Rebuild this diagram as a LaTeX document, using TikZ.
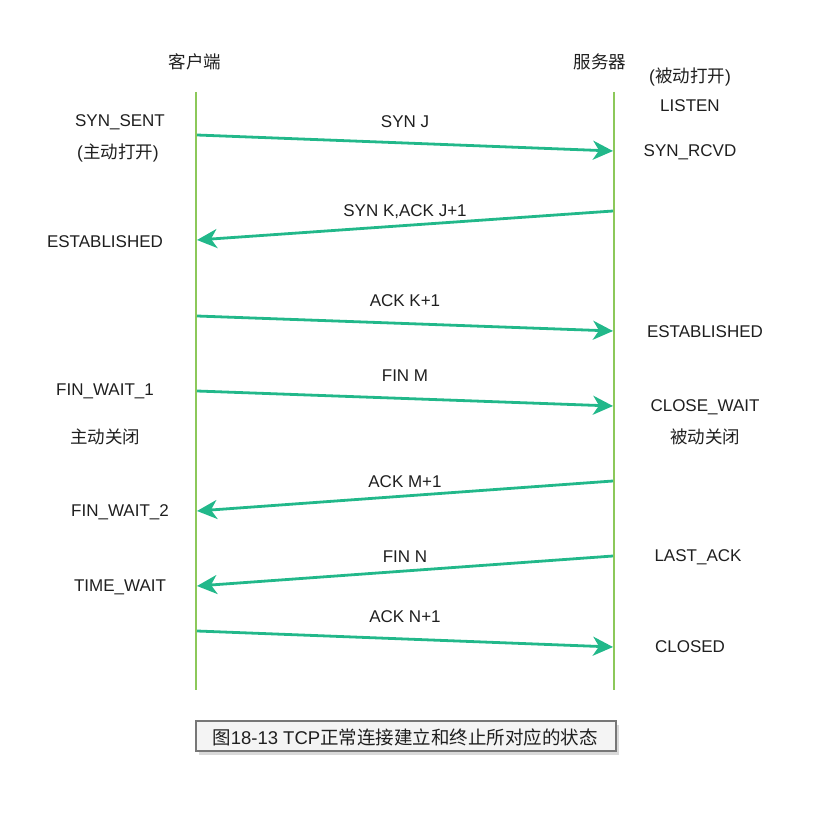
\documentclass[tikz,border=0pt]{standalone}
\usepackage{fontspec}
\setmainfont{Liberation Sans}
\newfontfamily\cjk{Noto Sans CJK SC}
\usetikzlibrary{arrows.meta,shadows}
\definecolor{life}{HTML}{8CC85A}
\definecolor{msg}{HTML}{22B88A}
\definecolor{capfill}{HTML}{F4F4F4}
\definecolor{capdraw}{HTML}{777777}
\newcommand{\zhx}[1]{{\cjk #1}}
\begin{document}
\begin{tikzpicture}[x=1pt,y=-1pt,
  lbl/.style={font=\fontsize{17}{20}\selectfont, inner sep=0pt, text=black!88},
  zh/.style={font=\fontsize{17.5}{20}\selectfont, inner sep=0pt, text=black!88},
  lifeline/.style={draw=life, line width=2.8pt},
  msgarrow/.style={draw=msg, line width=2.8pt, -{Stealth[length=20pt,width=19pt,inset=6pt]}},
  capbox/.style={draw=capdraw, fill=capfill, line width=1.2pt, minimum width=420pt, minimum height=30pt, inner sep=0pt, drop shadow={opacity=0.3, shadow xshift=3pt, shadow yshift=-4pt}}]
\useasboundingbox (0,0) rectangle (828,813);
% lifelines
\coordinate (ct) at (196,92); \coordinate (cb) at (196,690);
\coordinate (st) at (614,92); \coordinate (sb) at (614,690);
\draw[lifeline] (ct) -- (cb);
\draw[lifeline] (st) -- (sb);
% headers
\node[zh] (client) at (195,62) {\zhx{客户端}};
\node[zh] (server) at (600,62) {\zhx{服务器}};
% message endpoints
\coordinate (a1) at (197,135); \coordinate (b1) at (613,151);
\coordinate (a2) at (613,211); \coordinate (b2) at (197,240);
\coordinate (a3) at (197,316); \coordinate (b3) at (613,331);
\coordinate (a4) at (197,391); \coordinate (b4) at (613,406);
\coordinate (a5) at (613,481); \coordinate (b5) at (197,511);
\coordinate (a6) at (613,556); \coordinate (b6) at (197,586);
\coordinate (a7) at (197,631); \coordinate (b7) at (613,647);
\draw[msgarrow] (a1) -- (b1);
\draw[msgarrow] (a2) -- (b2);
\draw[msgarrow] (a3) -- (b3);
\draw[msgarrow] (a4) -- (b4);
\draw[msgarrow] (a5) -- (b5);
\draw[msgarrow] (a6) -- (b6);
\draw[msgarrow] (a7) -- (b7);
% message labels
\node[lbl] (m1) at (405,122) {SYN J};
\node[lbl] (m2) at (405,212) {SYN K,ACK J+1};
\node[lbl] (m3) at (405,301) {ACK K+1};
\node[lbl] (m4) at (405,376) {FIN M};
\node[lbl] (m5) at (405,482) {ACK M+1};
\node[lbl] (m6) at (405,557) {FIN N};
\node[lbl] (m7) at (405,617) {ACK N+1};
% client states
\node[lbl] (c1) at (120,122) {SYN\_SENT};
\node[zh] (c2) at (118,153) {(\zhx{主动打开})};
\node[lbl] (c3) at (105,242) {ESTABLISHED};
\node[lbl] (c4) at (105,391) {FIN\_WAIT\_1};
\node[zh] (c5) at (105,437) {\zhx{主动关闭}};
\node[lbl] (c6) at (120,512) {FIN\_WAIT\_2};
\node[lbl] (c7) at (120,587) {TIME\_WAIT};
% server states
\node[zh] (s0) at (690,77) {(\zhx{被动打开})};
\node[lbl] (s1) at (690,106) {LISTEN};
\node[lbl] (s2) at (690,152) {SYN\_RCVD};
\node[lbl] (s3) at (705,332) {ESTABLISHED};
\node[lbl] (s4) at (705,407) {CLOSE\_WAIT};
\node[zh] (s5) at (705,437) {\zhx{被动关闭}};
\node[lbl] (s6) at (698,557) {LAST\_ACK};
\node[lbl] (s7) at (690,647) {CLOSED};
% caption
\node[capbox] (cap) at (406,736) {};
\node[zh, font=\fontsize{18.5}{21}\selectfont] (captext) at (405,737) {\zhx{图}18-13 TCP\zhx{正常连接建立和终止所对应的状态}};
\end{tikzpicture}
\end{document}
